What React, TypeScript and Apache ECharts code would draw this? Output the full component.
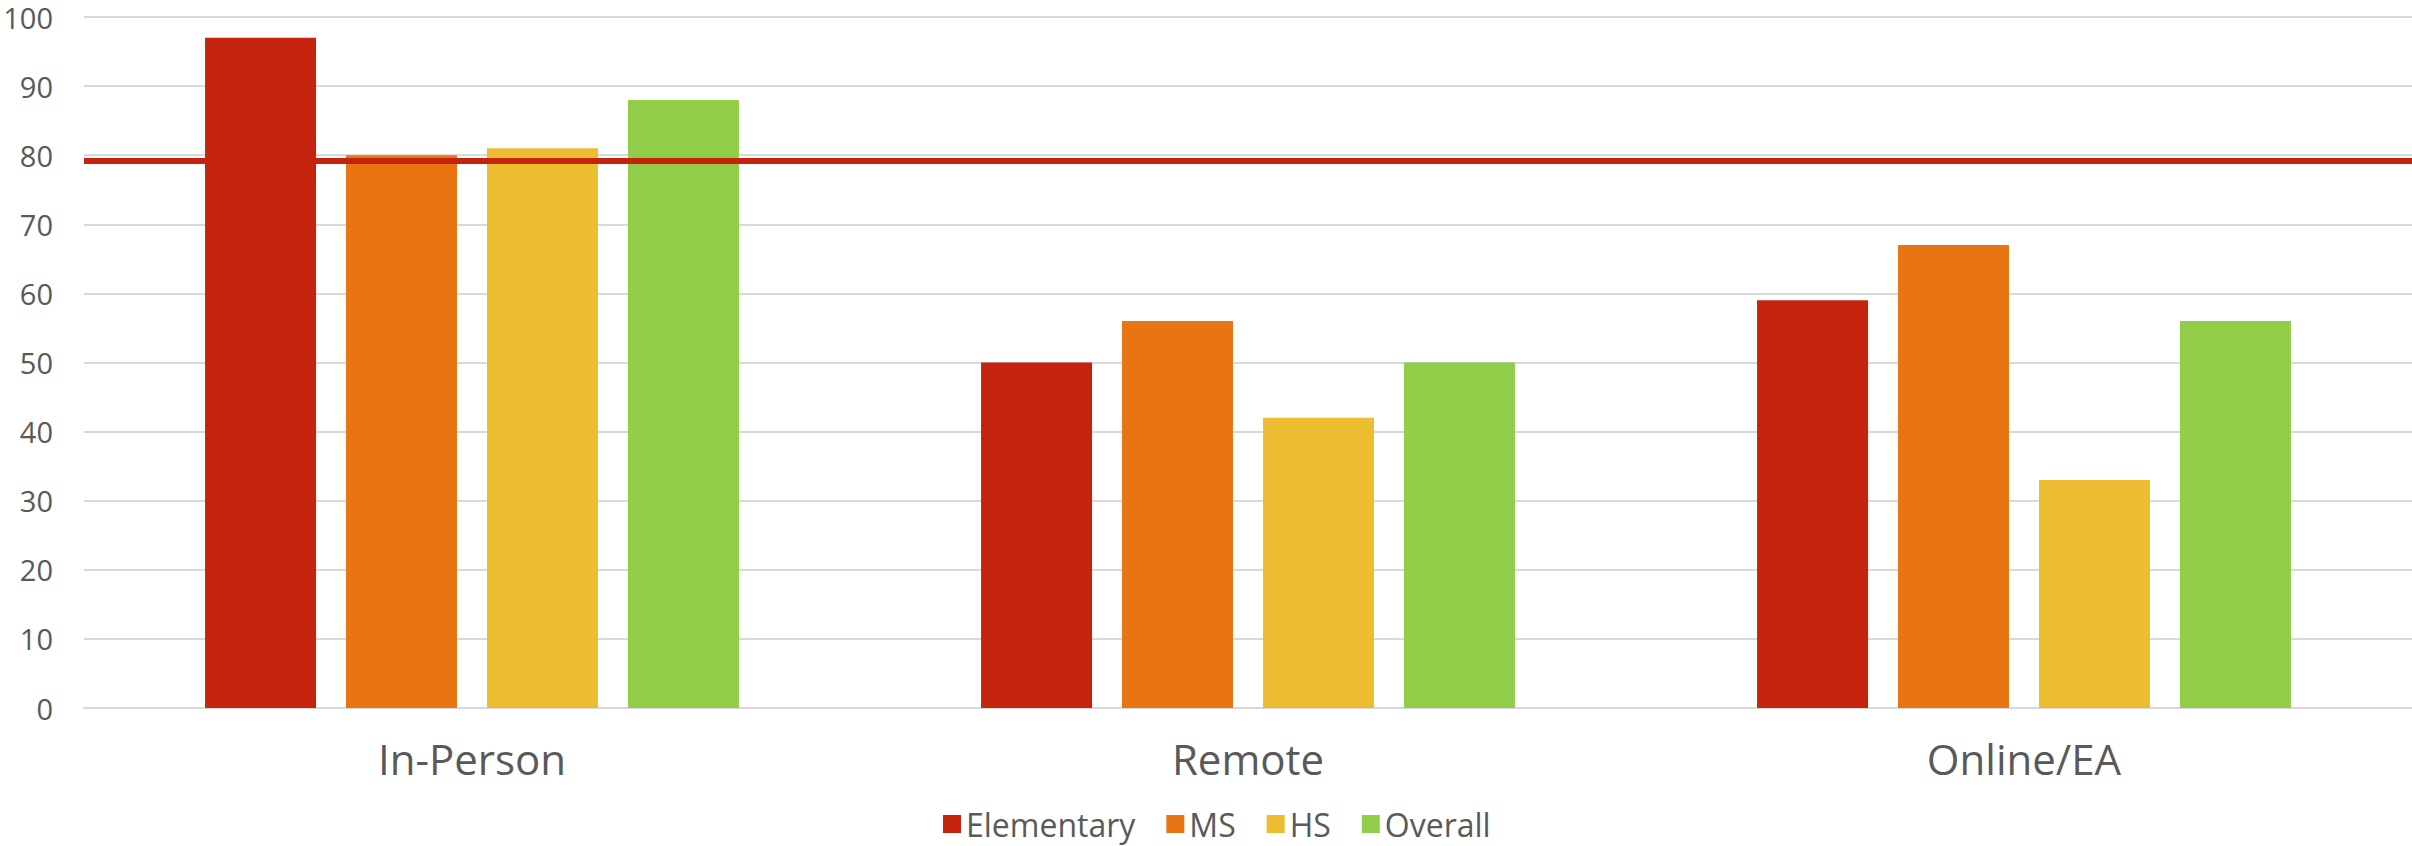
import React, { useEffect, useRef } from "react";
import * as echarts from "echarts";

const categories = ["In-Person", "Remote", "Online/EA"];
const seriesNames = ["Elementary", "MS", "HS", "Overall"];
const elementary = [97, 50, 59];
const ms = [80, 56, 67];
const hs = [81, 42, 33];
const overall = [88, 50, 56];
const targetLine = 79.2;
const yTicks = { min: 0, max: 100, interval: 10 };

const colors = ["#C4230E", "#E97512", "#ECBC31", "#92CD4A"];
const FONT = "'Open Sans', Lato, sans-serif";

export default function App() {
  const ref = useRef<HTMLDivElement>(null);
  useEffect(() => {
    document.body.style.margin = "0";
    const chart = echarts.init(ref.current!, null, { renderer: "svg" });
    const values = [elementary, ms, hs, overall];
    chart.setOption({
      animation: false,
      backgroundColor: "#ffffff",
      textStyle: { fontFamily: FONT },
      grid: { left: 84, right: 0, top: 17, bottom: 138, containLabel: false },
      legend: {
        data: seriesNames,
        left: 943,
        top: 808,
        padding: 0,
        icon: "rect",
        itemWidth: 18,
        itemHeight: 18,
        itemGap: 31,
        textStyle: { color: "#595959", fontSize: 32, fontFamily: FONT, lineHeight: 30, padding: [0, 0, 0, 0] },
      },
      xAxis: {
        type: "category",
        data: categories,
        axisLine: { lineStyle: { color: "#D9D9D9", width: 2 } },
        axisTick: { show: false },
        axisLabel: { color: "#595959", fontSize: 42, margin: 29, fontFamily: FONT },
      },
      yAxis: {
        type: "value",
        min: yTicks.min,
        max: yTicks.max,
        interval: yTicks.interval,
        axisLine: { show: false },
        axisTick: { show: false },
        splitLine: { lineStyle: { color: "#D9D9D9", width: 2 } },
        axisLabel: { color: "#595959", fontSize: 29, lineHeight: 28, margin: 31, fontFamily: FONT },
      },
      series: seriesNames.map((name, i) => ({
        name,
        type: "bar",
        data: values[i],
        barWidth: 111,
        barGap: "27%",
        itemStyle: { color: colors[i] },
        ...(i === 0
          ? {
              markLine: {
                silent: true,
                symbol: ["none", "none"],
                label: { show: false },
                lineStyle: { color: "#C4230E", width: 6, type: "solid" },
                data: [{ yAxis: targetLine }],
              },
            }
          : {}),
      })),
    });
    return () => chart.dispose();
  }, []);
  return <div ref={ref} style={{ width: 2412, height: 846 }} />;
}
